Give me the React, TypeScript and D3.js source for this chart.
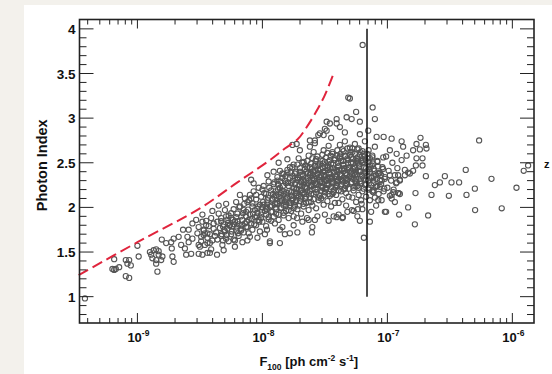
import React from "react";
import * as d3 from "d3";

// ---------- data (log10 F100 [ph cm^-2 s^-1], photon index) ----------
const lowFluxSources: [number, number][] = [
  [-9.42, 0.98], [-9.186, 1.42], [-9.2, 1.31], [-9.186, 1.3], [-9.173, 1.31], [-9.093, 1.41], [-9.066, 1.41],
  [-9.08, 1.37], [-9.053, 1.35], [-9.093, 1.23], [-9.066, 1.21], [-9.146, 1.33], [-9.0, 1.57], [-8.99, 1.45],
  [-8.9, 1.5], [-8.89, 1.47], [-8.88, 1.43], [-8.87, 1.52], [-8.85, 1.53], [-8.83, 1.51], [-8.83, 1.47],
  [-8.85, 1.41], [-8.81, 1.41], [-8.8, 1.45], [-8.84, 1.28], [-8.85, 1.37], [-8.805, 1.64], [-8.77, 1.6],
  [-8.73, 1.61], [-8.71, 1.65], [-8.725, 1.54], [-8.72, 1.45], [-8.71, 1.39], [-8.67, 1.67], [-8.635, 1.75],
  [-8.65, 1.58], [-8.62, 1.54], [-8.61, 1.47], [-8.57, 1.48], [-8.6, 1.67], [-8.59, 1.61], [-8.56, 1.65],
  [-8.59, 1.75], [-8.56, 1.82], [-8.53, 1.86], [-8.51, 1.78], [-8.48, 1.84], [-8.47, 1.75], [-8.45, 1.8],
  [-8.52, 1.71], [-8.49, 1.67], [-8.47, 1.69], [-8.44, 1.71], [-8.51, 1.58], [-8.51, 1.48], [-8.48, 1.47],
  [-8.44, 1.6],
];

const coreSources: [number, number][] = [
  [-8.49, 1.62], [-8.47, 1.74], [-8.46, 1.58], [-8.45, 1.85], [-8.44, 1.66], [-8.43, 1.79], [-8.42, 1.7], [-8.41, 1.53],
  [-8.41, 1.88], [-8.4, 1.63], [-8.39, 1.76], [-8.39, 1.82], [-8.38, 1.68], [-8.48, 1.92], [-8.44, 1.49], [-8.4, 1.96],
  [-8.46, 1.71], [-8.42, 1.6],
  [-8.37, 1.72], [-8.36, 1.84], [-8.36, 1.64], [-8.35, 1.93], [-8.34, 1.77], [-8.33, 1.68], [-8.33, 1.88], [-8.32, 1.58],
  [-8.31, 1.81], [-8.3, 1.73], [-8.3, 1.97], [-8.29, 1.65], [-8.28, 1.86], [-8.28, 1.76], [-8.27, 1.91], [-8.27, 1.62],
  [-8.26, 1.8], [-8.35, 2.02], [-8.31, 1.52], [-8.29, 2.04],
  [-8.25, 1.7], [-8.25, 1.88], [-8.24, 1.79], [-8.23, 1.98], [-8.23, 1.64], [-8.22, 1.84], [-8.21, 1.74], [-8.21, 2.06],
  [-8.2, 1.93], [-8.19, 1.68], [-8.19, 1.81], [-8.18, 2.01], [-8.17, 1.76], [-8.17, 1.9], [-8.16, 1.86], [-8.15, 1.72],
  [-8.15, 1.97], [-8.14, 2.1], [-8.14, 1.82], [-8.22, 1.56], [-8.18, 2.14], [-8.16, 1.61],
  [-8.13, 1.78], [-8.13, 1.95], [-8.12, 2.06], [-8.11, 1.86], [-8.11, 1.71], [-8.1, 2.14], [-8.1, 1.92], [-8.09, 1.82],
  [-8.08, 2.01], [-8.08, 1.75], [-8.07, 2.18], [-8.06, 1.89], [-8.06, 1.97], [-8.05, 2.09], [-8.05, 1.8], [-8.04, 1.94],
  [-8.03, 2.22], [-8.03, 1.86], [-8.02, 2.03], [-8.02, 1.73], [-8.12, 1.63], [-8.07, 2.27], [-8.04, 1.66], [-8.09, 2.31],
  [-8.01, 1.92], [-8.01, 2.12], [-8.0, 1.84], [-7.99, 2.03], [-7.99, 2.24], [-7.98, 1.96], [-7.97, 2.15], [-7.97, 1.79],
  [-7.96, 2.08], [-7.95, 1.89], [-7.95, 2.29], [-7.94, 2.01], [-7.93, 2.19], [-7.93, 1.85], [-7.92, 2.1], [-7.92, 1.95],
  [-7.91, 2.26], [-7.9, 2.04], [-7.9, 1.82], [-7.96, 2.36], [-7.98, 1.7], [-7.94, 1.62], [-7.91, 2.4], [-8.0, 2.2],
  [-7.97, 2.0],
  [-7.89, 2.14], [-7.89, 1.93], [-7.88, 2.3], [-7.88, 2.04], [-7.87, 1.86], [-7.86, 2.22], [-7.86, 2.41], [-7.85, 1.99],
  [-7.85, 2.1], [-7.84, 2.33], [-7.83, 1.91], [-7.83, 2.18], [-7.82, 2.06], [-7.81, 2.27], [-7.81, 1.96], [-7.8, 2.39],
  [-7.8, 2.12], [-7.79, 1.88], [-7.79, 2.24], [-7.78, 2.02], [-7.78, 2.45], [-7.84, 1.78], [-7.87, 2.5], [-7.82, 1.7],
  [-7.8, 2.54], [-7.86, 1.6], [-7.85, 2.16], [-7.83, 2.37],
  [-7.77, 2.17], [-7.77, 1.96], [-7.76, 2.35], [-7.76, 2.08], [-7.75, 2.48], [-7.75, 1.9], [-7.74, 2.26], [-7.74, 2.02],
  [-7.73, 2.4], [-7.73, 2.13], [-7.72, 1.98], [-7.72, 2.31], [-7.71, 2.55], [-7.71, 2.2], [-7.7, 2.07], [-7.7, 2.44],
  [-7.69, 1.93], [-7.69, 2.28], [-7.68, 2.16], [-7.68, 2.37], [-7.67, 2.01], [-7.67, 2.51], [-7.66, 2.23], [-7.66, 2.1],
  [-7.75, 1.8], [-7.72, 1.72], [-7.7, 2.64], [-7.68, 1.84], [-7.76, 2.7], [-7.73, 2.2], [-7.69, 2.12],
  [-7.65, 2.3], [-7.65, 2.05], [-7.64, 2.45], [-7.64, 2.18], [-7.63, 1.97], [-7.63, 2.58], [-7.62, 2.36], [-7.62, 2.11],
  [-7.61, 2.24], [-7.61, 2.49], [-7.6, 2.02], [-7.6, 2.33], [-7.59, 2.62], [-7.59, 2.15], [-7.58, 2.41], [-7.58, 2.27],
  [-7.57, 1.99], [-7.57, 2.54], [-7.56, 2.2], [-7.56, 2.38], [-7.55, 2.08], [-7.55, 2.47], [-7.54, 2.29], [-7.54, 2.13],
  [-7.63, 1.86], [-7.6, 1.78], [-7.58, 2.72], [-7.56, 1.9], [-7.62, 2.68], [-7.59, 2.25], [-7.57, 2.35], [-7.61, 2.06],
  [-7.53, 2.36], [-7.53, 2.1], [-7.52, 2.52], [-7.52, 2.22], [-7.51, 2.03], [-7.51, 2.64], [-7.5, 2.41], [-7.5, 2.17],
  [-7.49, 2.3], [-7.49, 2.56], [-7.48, 2.07], [-7.48, 2.44], [-7.47, 2.69], [-7.47, 2.25], [-7.46, 2.34], [-7.46, 2.13],
  [-7.45, 2.49], [-7.45, 2.01], [-7.44, 2.6], [-7.44, 2.28], [-7.43, 2.19], [-7.43, 2.39], [-7.42, 2.05], [-7.42, 2.53],
  [-7.5, 1.92], [-7.47, 1.85], [-7.45, 2.78], [-7.43, 1.9], [-7.51, 2.81], [-7.48, 2.33], [-7.46, 2.45], [-7.44, 2.15],
  [-7.49, 2.2],
  [-7.41, 2.32], [-7.41, 2.14], [-7.4, 2.58], [-7.4, 2.24], [-7.39, 2.05], [-7.39, 2.46], [-7.38, 2.7], [-7.38, 2.37],
  [-7.37, 2.18], [-7.37, 2.52], [-7.36, 2.29], [-7.36, 2.09], [-7.35, 2.63], [-7.35, 2.41], [-7.34, 2.21], [-7.34, 2.74],
  [-7.33, 2.33], [-7.33, 2.02], [-7.32, 2.55], [-7.32, 2.26], [-7.31, 2.44], [-7.31, 2.12], [-7.3, 2.67], [-7.3, 2.35],
  [-7.39, 1.92], [-7.36, 1.88], [-7.34, 2.84], [-7.32, 1.95], [-7.38, 2.9], [-7.4, 2.4], [-7.35, 2.48], [-7.33, 2.16],
  [-7.37, 2.31],
  [-7.29, 2.28], [-7.29, 2.5], [-7.28, 2.11], [-7.28, 2.62], [-7.27, 2.38], [-7.27, 2.19], [-7.26, 2.71], [-7.26, 2.44],
  [-7.25, 2.06], [-7.25, 2.32], [-7.24, 2.56], [-7.24, 2.24], [-7.23, 2.14], [-7.23, 2.66], [-7.22, 2.4], [-7.22, 2.29],
  [-7.21, 2.08], [-7.21, 2.52], [-7.2, 2.35], [-7.2, 2.18], [-7.19, 2.6], [-7.19, 2.45], [-7.18, 2.25], [-7.18, 2.74],
  [-7.27, 1.96], [-7.24, 1.9], [-7.22, 2.82], [-7.2, 1.98], [-7.26, 2.36], [-7.23, 2.48],
  [-7.17, 2.31], [-7.17, 2.12], [-7.16, 2.55], [-7.16, 2.4], [-7.15, 2.22], [-7.15, 2.64], [-7.14, 2.08], [-7.14, 2.47],
  [-7.13, 2.33], [-7.12, 2.18], [-7.12, 2.58], [-7.11, 2.27], [-7.11, 2.43], [-7.1, 2.11], [-7.1, 2.68], [-7.09, 2.36],
  [-7.08, 2.24], [-7.08, 2.51], [-7.07, 2.15], [-7.06, 2.39], [-7.06, 2.3], [-7.13, 1.95], [-7.09, 2.02],
  [-7.05, 2.26], [-7.04, 2.45], [-7.03, 2.18], [-7.02, 2.34], [-7.01, 2.57], [-7.0, 2.22], [-6.99, 2.41], [-6.98, 2.13],
  [-6.97, 2.3], [-6.96, 2.5], [-6.95, 2.2], [-6.94, 2.36], [-6.93, 2.27], [-6.92, 2.44], [-6.91, 2.16], [-6.9, 2.31],
];

// second layer of the crowded centre of the distribution
const coreSourcesDense: [number, number][] = [
  [-8.325, 1.7], [-8.315, 1.785], [-8.33, 1.845], [-8.305, 1.745],
  [-8.285, 1.69], [-8.275, 1.825], [-8.29, 1.9], [-8.265, 1.795],
  [-8.245, 1.73], [-8.235, 1.86], [-8.25, 1.935], [-8.225, 1.81],
  [-8.205, 1.775], [-8.195, 1.71], [-8.21, 1.89], [-8.185, 2.0], [-8.2, 1.845],
  [-8.165, 1.8], [-8.155, 1.935], [-8.17, 1.74], [-8.145, 2.04],
  [-8.125, 1.84], [-8.115, 1.975], [-8.13, 1.9], [-8.105, 2.08], [-8.12, 1.78],
  [-8.085, 1.87], [-8.075, 1.93], [-8.09, 2.1], [-8.065, 1.81], [-8.08, 2.045],
  [-8.045, 1.9], [-8.035, 2.01], [-8.05, 2.14], [-8.025, 1.84], [-8.04, 1.985],
  [-8.005, 1.95], [-7.995, 2.06], [-8.01, 1.88], [-7.985, 2.16], [-8.0, 2.0],
  [-7.965, 1.98], [-7.955, 2.11], [-7.97, 1.92], [-7.945, 2.22], [-7.96, 2.045], [-7.95, 1.865],
  [-7.925, 2.02], [-7.915, 2.15], [-7.93, 1.95], [-7.905, 2.28], [-7.92, 2.085], [-7.91, 1.895],
  [-7.885, 2.05], [-7.875, 2.2], [-7.89, 1.98], [-7.865, 2.12], [-7.88, 2.34], [-7.87, 1.92],
  [-7.845, 2.08], [-7.835, 2.24], [-7.85, 2.0], [-7.825, 2.155], [-7.84, 2.38], [-7.83, 1.94], [-7.82, 2.3],
  [-7.805, 2.1], [-7.795, 2.28], [-7.81, 2.03], [-7.785, 2.185], [-7.8, 2.42], [-7.79, 1.97], [-7.78, 2.33],
  [-7.765, 2.13], [-7.755, 2.3], [-7.77, 2.05], [-7.745, 2.22], [-7.76, 2.45], [-7.75, 1.99], [-7.74, 2.38], [-7.735, 2.155],
  [-7.725, 2.16], [-7.715, 2.33], [-7.73, 2.08], [-7.705, 2.25], [-7.72, 2.48], [-7.71, 2.02], [-7.7, 2.4], [-7.695, 2.19],
  [-7.685, 2.19], [-7.675, 2.35], [-7.69, 2.1], [-7.665, 2.28], [-7.68, 2.5], [-7.67, 2.04], [-7.66, 2.43], [-7.655, 2.22], [-7.675, 2.31],
  [-7.645, 2.21], [-7.635, 2.38], [-7.65, 2.12], [-7.625, 2.3], [-7.64, 2.52], [-7.63, 2.06], [-7.62, 2.45], [-7.615, 2.25], [-7.635, 2.33],
  [-7.605, 2.24], [-7.595, 2.4], [-7.61, 2.15], [-7.585, 2.32], [-7.6, 2.55], [-7.59, 2.09], [-7.58, 2.47], [-7.575, 2.27], [-7.595, 2.36],
  [-7.565, 2.26], [-7.555, 2.42], [-7.57, 2.17], [-7.545, 2.34], [-7.56, 2.57], [-7.55, 2.11], [-7.54, 2.49], [-7.535, 2.29], [-7.555, 2.38],
  [-7.525, 2.28], [-7.515, 2.44], [-7.53, 2.19], [-7.505, 2.36], [-7.52, 2.59], [-7.51, 2.13], [-7.5, 2.51], [-7.495, 2.31], [-7.515, 2.4], [-7.52, 2.23],
  [-7.485, 2.3], [-7.475, 2.46], [-7.49, 2.21], [-7.465, 2.38], [-7.48, 2.61], [-7.47, 2.15], [-7.46, 2.53], [-7.455, 2.33], [-7.475, 2.42], [-7.48, 2.25],
  [-7.445, 2.32], [-7.435, 2.48], [-7.45, 2.23], [-7.425, 2.4], [-7.44, 2.62], [-7.43, 2.17], [-7.42, 2.55], [-7.415, 2.35], [-7.435, 2.44], [-7.44, 2.27],
  [-7.405, 2.34], [-7.395, 2.5], [-7.41, 2.25], [-7.385, 2.42], [-7.4, 2.64], [-7.39, 2.19], [-7.38, 2.57], [-7.375, 2.37], [-7.395, 2.46], [-7.4, 2.29],
  [-7.365, 2.35], [-7.355, 2.52], [-7.37, 2.26], [-7.345, 2.44], [-7.36, 2.65], [-7.35, 2.2], [-7.34, 2.58], [-7.335, 2.38], [-7.355, 2.48], [-7.36, 2.3],
  [-7.325, 2.36], [-7.315, 2.53], [-7.33, 2.27], [-7.305, 2.45], [-7.32, 2.66], [-7.31, 2.21], [-7.3, 2.59], [-7.295, 2.39], [-7.315, 2.49], [-7.32, 2.31],
  [-7.285, 2.37], [-7.275, 2.54], [-7.29, 2.28], [-7.265, 2.46], [-7.28, 2.66], [-7.27, 2.22], [-7.26, 2.6], [-7.255, 2.4], [-7.275, 2.5], [-7.28, 2.32],
  [-7.245, 2.37], [-7.235, 2.54], [-7.25, 2.28], [-7.225, 2.46], [-7.24, 2.65], [-7.23, 2.22], [-7.22, 2.59], [-7.215, 2.4], [-7.235, 2.5],
  [-7.205, 2.36], [-7.195, 2.53], [-7.21, 2.27], [-7.185, 2.45], [-7.2, 2.63], [-7.19, 2.21], [-7.18, 2.57], [-7.175, 2.39],
  [-7.165, 2.35], [-7.155, 2.51], [-7.17, 2.26], [-7.145, 2.43], [-7.16, 2.6], [-7.15, 2.2], [-7.14, 2.55],
  [-7.125, 2.34], [-7.115, 2.49], [-7.13, 2.25], [-7.105, 2.41], [-7.12, 2.56], [-7.11, 2.19],
  [-7.085, 2.32], [-7.075, 2.46], [-7.09, 2.23], [-7.065, 2.38], [-7.08, 2.52],
  [-7.045, 2.3], [-7.035, 2.43], [-7.05, 2.36], [-7.025, 2.21],
];

// third layer: the darkest part of the cloud
const coreSourcesPeak: [number, number][] = [
  [-7.905, 2.12], [-7.895, 2.0], [-7.875, 2.26], [-7.86, 2.07], [-7.845, 2.19], [-7.83, 2.02], [-7.815, 2.35],
  [-7.8, 2.16], [-7.785, 2.05], [-7.77, 2.27], [-7.755, 2.1], [-7.74, 2.33], [-7.725, 2.21], [-7.71, 2.13],
  [-7.695, 2.36], [-7.68, 2.24], [-7.665, 2.15], [-7.65, 2.4], [-7.635, 2.27], [-7.62, 2.18], [-7.605, 2.43],
  [-7.59, 2.3], [-7.575, 2.2], [-7.56, 2.46], [-7.545, 2.31], [-7.53, 2.24], [-7.515, 2.49], [-7.5, 2.34],
  [-7.485, 2.26], [-7.47, 2.51], [-7.455, 2.37], [-7.44, 2.3], [-7.425, 2.53], [-7.41, 2.42], [-7.395, 2.31],
  [-7.38, 2.55], [-7.365, 2.43], [-7.35, 2.33], [-7.335, 2.57], [-7.32, 2.42], [-7.305, 2.34], [-7.29, 2.56],
  [-7.275, 2.43], [-7.26, 2.3], [-7.245, 2.52], [-7.23, 2.41], [-7.215, 2.32], [-7.2, 2.5], [-7.185, 2.38],
  [-7.17, 2.44], [-7.155, 2.3], [-7.14, 2.4], [-7.125, 2.47], [-7.11, 2.35],
  [-7.895, 2.18], [-7.855, 2.29], [-7.815, 2.09], [-7.775, 2.39], [-7.735, 2.06], [-7.695, 2.29], [-7.655, 2.47],
  [-7.615, 2.39], [-7.575, 2.52], [-7.535, 2.43], [-7.495, 2.22], [-7.455, 2.58], [-7.415, 2.22], [-7.375, 2.6],
  [-7.335, 2.24], [-7.295, 2.62], [-7.255, 2.24], [-7.215, 2.62], [-7.175, 2.53],
];

const outlierSources: [number, number][] = [
  [-7.313, 3.23], [-7.406, 2.94], [-7.46, 2.94], [-7.486, 2.86], [-7.286, 2.99], [-7.54, 2.83], [-7.62, 2.75],
  [-7.726, 2.71], [-7.486, 2.96], [-7.5, 2.88], [-7.406, 2.99], [-7.326, 3.01], [-7.553, 2.81], [-7.58, 2.75],
  [-7.78, 1.71], [-7.604, 1.72], [-7.406, 1.89], [-7.356, 1.89], [-7.723, 1.88], [-7.643, 1.88], [-7.58, 1.86],
  [-7.94, 1.6], [-7.963, 1.75], [-7.86, 1.75], [-8.1, 1.67], [-8.22, 1.63], [-8.315, 1.63], [-8.42, 1.49],
  [-8.363, 1.47], [-8.5, 1.56],
];

const highFluxSources: [number, number][] = [
  [-7.198, 3.82], [-7.118, 3.12], [-7.1, 2.99], [-7.25, 3.07], [-7.22, 2.96], [-7.3, 3.22], [-6.266, 2.75],
  [-7.086, 2.79], [-7.03, 2.79], [-6.966, 2.77], [-6.886, 2.74], [-6.735, 2.78], [-6.767, 2.71], [-6.692, 2.7],
  [-7.153, 2.86], [-6.373, 2.42], [-6.54, 2.35], [-6.58, 2.28], [-6.62, 2.25], [-6.487, 2.28], [-6.426, 2.28],
  [-6.647, 2.14], [-6.508, 2.13], [-6.367, 2.14], [-6.3, 2.21], [-6.167, 2.32], [-5.967, 2.22], [-5.874, 2.47],
  [-5.909, 2.41], [-6.298, 1.97], [-6.085, 1.99], [-6.674, 1.91], [-6.78, 1.81], [-6.834, 2.0], [-6.906, 1.92],
  [-7.02, 1.95], [-7.188, 1.66], [-7.22, 1.85], [-7.14, 1.84], [-6.775, 2.16], [-6.692, 2.35], [-6.719, 2.47],
  [-6.719, 2.55], [-6.767, 2.55], [-6.772, 2.47], [-6.834, 2.39], [-6.86, 2.42], [-6.794, 2.41], [-6.914, 2.36],
  [-6.9, 2.3], [-6.966, 2.14], [-6.914, 2.16], [-7.046, 2.08], [-7.01, 1.95], [-7.284, 1.97], [-7.236, 1.98],
  [-7.206, 2.04], [-7.246, 2.28], [-6.874, 2.68], [-6.687, 2.66], [-6.74, 2.65], [-6.794, 2.64], [-6.846, 2.58],
  [-6.886, 2.53], [-6.926, 2.6], [-6.98, 2.64], [-7.033, 2.56], [-6.82, 2.38], [-6.86, 2.36], [-6.926, 2.28],
  [-6.98, 2.36], [-7.02, 2.32], [-7.073, 2.38], [-7.113, 2.3], [-7.06, 2.23], [-7.113, 2.17], [-7.073, 2.08],
  [-6.953, 2.17], [-6.966, 2.1], [-6.94, 2.06], [-6.9, 2.15],
];

// detection-threshold curve (red dashed)
const limitLogFlux = [-9.47, -9.0, -8.5, -8.2, -7.95, -7.82, -7.72, -7.65, -7.575, -7.503, -7.436];
const limitIndex = [1.24, 1.61, 1.99, 2.28, 2.52, 2.66, 2.76, 2.89, 3.06, 3.25, 3.48];

// vertical reference line
const refLogFlux = -7.163;
const refIndexRange = [1.0, 4.0];

const yTickValues = [1, 1.5, 2, 2.5, 3, 3.5, 4];
const xDecades = [-9, -8, -7, -6];

const FONT = "'Liberation Sans', Arial, Helvetica, sans-serif";

export default function App() {
  const W = 552, H = 374;
  const left = 79.5, right = 534, top = 19.5, bottom = 323;

  const x = d3.scaleLog().domain([3.44e-10, 1.49e-6]).range([left, right]);
  const y = d3.scaleLinear().domain([0.705, 4.105]).range([bottom, top]);

  const allPts = [
    ...lowFluxSources,
    ...coreSources,
    ...coreSourcesDense,
    ...coreSourcesPeak,
    ...outlierSources,
    ...highFluxSources,
  ];

  const limitLine = d3
    .line<number>()
    .x((_, i) => x(Math.pow(10, limitLogFlux[i])))
    .y((_, i) => y(limitIndex[i]))
    .curve(d3.curveCatmullRom.alpha(0.5))(limitLogFlux);

  const [x0, x1] = x.domain();
  const xMinor: number[] = [];
  for (let d = -10; d <= -5; d++) {
    for (let k = 2; k <= 9; k++) {
      const v = k * Math.pow(10, d);
      if (v > x0 && v < x1) xMinor.push(v);
    }
  }
  const yMinor = d3.range(8, 41).map((v) => v / 10).filter((v) => Math.round(v * 10) % 5 !== 0);

  const stroke = "#222";

  return (
    <svg
      width={W}
      height={H}
      style={{ position: "fixed", left: 0, top: 0, background: "#f3f1ec" }}
      fontFamily={FONT}
    >
      <rect x={24} y={5} width={W - 24} height={H - 5} fill="#ffffff" />

      {/* scatter */}
      <g fill="none" stroke="#555555" strokeWidth={1.1}>
        {allPts.map((p, i) => (
          <circle key={i} cx={x(Math.pow(10, p[0]))} cy={y(p[1])} r={2.6} />
        ))}
      </g>

      {/* red limit curve */}
      <path d={limitLine || ""} fill="none" stroke="#e0243c" strokeWidth={2} strokeDasharray="11,5" />

      {/* vertical line */}
      <line
        x1={x(Math.pow(10, refLogFlux))}
        x2={x(Math.pow(10, refLogFlux))}
        y1={y(refIndexRange[0])}
        y2={y(refIndexRange[1])}
        stroke="#111"
        strokeWidth={1.5}
      />

      {/* frame */}
      <rect x={left} y={top} width={right - left} height={bottom - top} fill="none" stroke={stroke} strokeWidth={1.6} />

      <g stroke={stroke} strokeWidth={1}>
        {xDecades.map((d) => {
          const px = x(Math.pow(10, d));
          return (
            <g key={"xM" + d}>
              <line x1={px} x2={px} y1={bottom} y2={bottom - 10} />
              <line x1={px} x2={px} y1={top} y2={top + 9} />
            </g>
          );
        })}
        {xMinor.map((v, i) => {
          const px = x(v);
          return (
            <g key={"xm" + i}>
              <line x1={px} x2={px} y1={bottom} y2={bottom - 5} />
              <line x1={px} x2={px} y1={top} y2={top + 5} />
            </g>
          );
        })}
        {yTickValues.map((v) => (
          <g key={"yM" + v}>
            <line x1={left} x2={left + 14} y1={y(v)} y2={y(v)} />
            <line x1={right} x2={right - 14} y1={y(v)} y2={y(v)} />
          </g>
        ))}
        {yMinor.map((v) => (
          <g key={"ym" + v}>
            <line x1={left} x2={left + 7} y1={y(v)} y2={y(v)} />
            <line x1={right} x2={right - 7} y1={y(v)} y2={y(v)} />
          </g>
        ))}
      </g>

      <g fontWeight="bold" fontSize={13.5} fill="#111" textAnchor="end">
        {yTickValues.map((v) => (
          <text key={"yl" + v} x={left - 4} y={y(v) + 5}>
            {String(v)}
          </text>
        ))}
      </g>

      <g fontWeight="bold" fontSize={13} fill="#111" textAnchor="middle">
        {xDecades.map((d) => (
          <text key={"xl" + d} x={x(Math.pow(10, d)) + 1} y={bottom + 19}>
            10
            <tspan fontSize={8.5} dy={-6}>
              {String(d)}
            </tspan>
          </text>
        ))}
      </g>

      <text
        transform={`translate(47, ${(top + bottom) / 2 - 6}) rotate(-90)`}
        textAnchor="middle"
        fontWeight="bold"
        fontSize={14.5}
        fill="#111"
      >
        Photon Index
      </text>
      <text x={(left + right) / 2 + 2} y={366} textAnchor="middle" fontWeight="bold" fontSize={13} fill="#111">
        F
        <tspan fontSize={8.5} dy={4}>100</tspan>
        <tspan dy={-4}> [ph cm</tspan>
        <tspan fontSize={8.5} dy={-5}>-2</tspan>
        <tspan dy={5}> s</tspan>
        <tspan fontSize={8.5} dy={-5}>-1</tspan>
        <tspan dy={5}>]</tspan>
      </text>

      <text x={544} y={168} fontWeight="bold" fontSize={11} fill="#111">
        z
      </text>
    </svg>
  );
}
